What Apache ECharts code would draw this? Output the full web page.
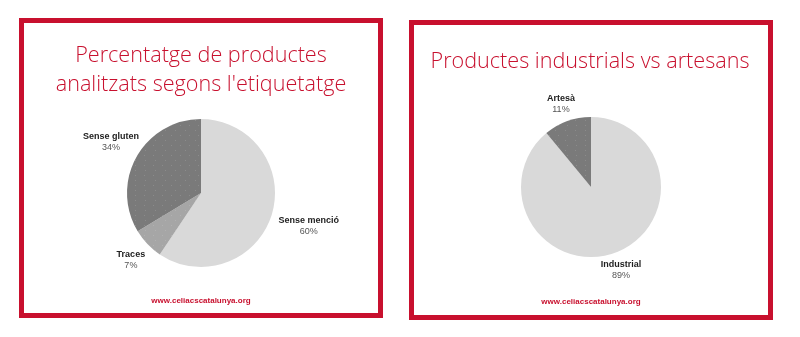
<!DOCTYPE html>
<html>
<head>
<meta charset="utf-8">
<script src="https://cdn.jsdelivr.net/npm/echarts@6/dist/echarts.min.js"></script>
<style>
html, body { margin: 0; padding: 0; background: #fff; }
#chart { width: 800px; height: 337px; }
</style>
</head>
<body>
<div id="chart"></div>
<script>
// dades
const labelNames = ['Sense menció', 'Traces', 'Sense gluten'];
const labelValues = [60, 7, 34];
const originNames = ['Industrial', 'Artesà'];
const originValues = [89, 11];
const titleLeft = "Percentatge de productes\nanalitzats segons l'etiquetatge";
const titleRight = 'Productes industrials vs artesans';
const footer = 'www.celiacscatalunya.org';

const RED = '#c8102e';
const LIGHT = '#d9d9d9';
const MID = '#a6a6a6';
const DARK = '#7a7a7a';

const chart = echarts.init(document.getElementById('chart'));

// trama de punts de les porcions fosques
const dots = {
	symbol: 'rect',
	symbolSize: 1,
	color: 'rgba(255,255,255,0.13)',
	dashArrayX: [[1, 8], [0, 4.5, 1, 3.5]],
	dashArrayY: [1, 4],
};

const buildData = (names, values, colors) =>
	names.map((name, i) => ({
		name: name,
		value: values[i],
		itemStyle: {
			color: colors[i],
			decal: colors[i] === LIGHT ? { symbol: 'none' } : dots,
		},
	}));

// col·loca l'etiqueta tocant el radi, com fa Google Charts
const placeLabel = (p) => {
	const pts = p.labelLinePoints;
	if (!pts) return {};
	let dx = pts[1][0] - pts[0][0];
	let dy = pts[1][1] - pts[0][1];
	const len = Math.hypot(dx, dy) || 1;
	dx /= len;
	dy /= len;
	const hw = p.labelRect.width / 2;
	const hh = p.labelRect.height / 2;
	const t = Math.min(
		Math.abs(dx) > 1e-6 ? hw / Math.abs(dx) : Infinity,
		Math.abs(dy) > 1e-6 ? hh / Math.abs(dy) : Infinity
	);
	const gap = 7;
	return {
		x: pts[0][0] + dx * (gap + t),
		y: pts[0][1] + dy * (gap + t),
		align: 'center',
		verticalAlign: 'middle',
	};
};

const pieSeries = (center, radius, data) => ({
	type: 'pie',
	center: center,
	radius: radius,
	startAngle: 90,
	clockwise: true,
	silent: true,
	animation: false,
	data: data,
	label: {
		show: true,
		position: 'outside',
		formatter: '{n|{b}}\n{p|{c}%}',
		fontFamily: 'Liberation Sans, Arial, sans-serif',
		fontSize: 9,
		lineHeight: 11,
		rich: {
			n: { fontWeight: 'bold', color: '#222', align: 'center', fontSize: 9, lineHeight: 11 },
			p: { color: '#555', align: 'center', fontSize: 9, lineHeight: 11 },
		},
	},
	labelLine: {
		show: true,
		length: 10,
		length2: 0,
		lineStyle: { opacity: 0 },
	},
	labelLayout: placeLabel,
	itemStyle: { borderWidth: 0 },
});

const text = (x, y, str, style) => ({
	type: 'text',
	x: x,
	y: y,
	silent: true,
	style: Object.assign({ text: str, align: 'center', verticalAlign: 'middle' }, style),
});

const titleStyle = {
	fill: RED,
	font: '300 21.6px "Open Sans", Lato, sans-serif',
	lineHeight: 29,
};
const footStyle = {
	fill: RED,
	font: 'bold 8px "Liberation Sans", Arial, sans-serif',
};

chart.setOption({
	backgroundColor: '#fff',
	series: [
		pieSeries([201, 193], 74, buildData(labelNames, labelValues, [LIGHT, MID, DARK])),
		pieSeries([591, 187], 70, buildData(originNames, originValues, [LIGHT, DARK])),
	],
	graphic: [
		{
			type: 'rect',
			silent: true,
			shape: { x: 21.5, y: 20.5, width: 359, height: 295 },
			style: { fill: 'none', stroke: RED, lineWidth: 5 },
		},
		{
			type: 'rect',
			silent: true,
			shape: { x: 411.5, y: 22.5, width: 359, height: 295 },
			style: { fill: 'none', stroke: RED, lineWidth: 5 },
		},
		text(201, 70.5, titleLeft, titleStyle),
		text(590, 62, titleRight, titleStyle),
		text(201, 301, footer, footStyle),
		text(591, 302, footer, footStyle),
	],
});
</script>
</body>
</html>
